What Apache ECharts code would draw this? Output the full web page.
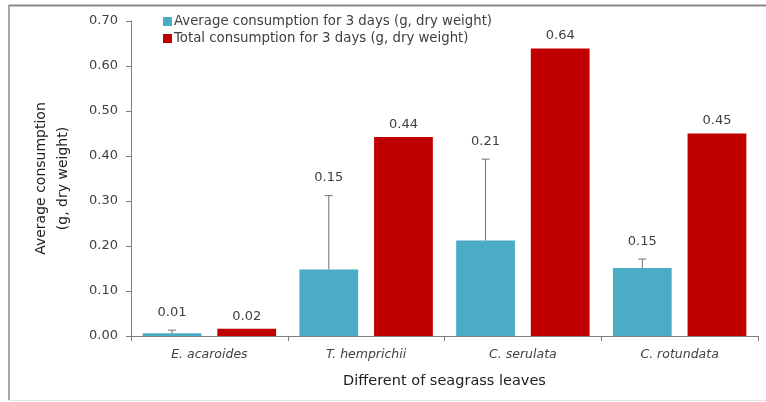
<!DOCTYPE html>
<html>
<head>
<meta charset="utf-8">
<script src="https://cdn.jsdelivr.net/npm/echarts@6/dist/echarts.min.js"></script>
<style>
html,body{margin:0;padding:0;background:#fff;}
#c{width:766px;height:402px;}
</style>
</head>
<body>
<div id="c"></div>
<script>
var categories = ['E. acaroides', 'T. hemprichii', 'C. serulata', 'C. rotundata'];
var seriesNames = ['Average consumption for 3 days (g, dry weight)', 'Total consumption for 3 days (g, dry weight)'];
var averageValues = [0.006, 0.148, 0.212, 0.151];
var averageErrorTops = [0.013, 0.312, 0.393, 0.171];
var totalValues = [0.016, 0.442, 0.639, 0.45];
var yTicks = [0, 0.1, 0.2, 0.3, 0.4, 0.5, 0.6, 0.7];

var FONT = 'DejaVu Sans';
var TEXT = '#404040';
var AXIS = '#7f7f7f';
var BAR_W = 0.375, BAR_GAP = 0.27;

var chart = echarts.init(document.getElementById('c'), null, {renderer: 'canvas'});

var errData = categories.map(function (c, i) { return [i, averageValues[i], averageErrorTops[i]]; });

chart.setOption({
  animation: false,
  textStyle: {fontFamily: FONT},
  graphic: [
    {type: 'line', shape: {x1: 9, y1: 5.5, x2: 766, y2: 5.5}, style: {stroke: '#8a8a8a', lineWidth: 2}},
    {type: 'line', shape: {x1: 9, y1: 5, x2: 9, y2: 400}, style: {stroke: '#8a8a8a', lineWidth: 1.5}},
    {type: 'line', shape: {x1: 9, y1: 400.5, x2: 766, y2: 400.5}, style: {stroke: '#e2e2e2', lineWidth: 1}}
  ],
  legend: {
    orient: 'vertical',
    left: 158,
    top: 10,
    itemWidth: 9,
    itemHeight: 9,
    itemGap: 4,
    icon: 'rect',
    data: seriesNames,
    textStyle: {fontFamily: FONT, fontSize: 13.3, color: TEXT, padding: [0, 0, 0, -3]}
  },
  grid: {left: 131, right: 8, top: 21, bottom: 66},
  xAxis: {
    type: 'category',
    data: categories,
    name: 'Different of seagrass leaves',
    nameLocation: 'middle',
    nameGap: 38,
    nameTextStyle: {fontFamily: FONT, fontSize: 14.5, color: '#202020'},
    axisLine: {lineStyle: {color: AXIS, width: 1}},
    axisTick: {show: true, length: 5, inside: false, lineStyle: {color: AXIS}},
    axisLabel: {fontFamily: FONT, fontSize: 12.5, fontStyle: 'italic', color: TEXT, margin: 12}
  },
  yAxis: {
    type: 'value',
    min: 0,
    max: 0.7,
    interval: 0.1,
    name: 'Average consumption\n(g, dry weight)',
    nameLocation: 'middle',
    nameGap: 57,
    nameRotate: 90,
    nameTextStyle: {fontFamily: FONT, fontSize: 14, color: '#202020', lineHeight: 22},
    axisLine: {show: true, lineStyle: {color: AXIS, width: 1}},
    axisTick: {show: true, length: 5, lineStyle: {color: AXIS}},
    splitLine: {show: false},
    axisLabel: {
      fontFamily: FONT, fontSize: 13, color: TEXT, margin: 13,
      formatter: function (v) {
        var t = yTicks.filter(function (k) { return Math.abs(k - v) < 1e-9; });
        return (t.length ? t[0] : v).toFixed(2);
      }
    }
  },
  series: [
    {
      name: seriesNames[0],
      type: 'bar',
      data: averageValues,
      barWidth: (BAR_W * 100) + '%',
      barGap: (BAR_GAP * 100) + '%',
      itemStyle: {color: '#4BACC6'},
      z: 2
    },
    {
      name: seriesNames[1],
      type: 'bar',
      data: totalValues,
      barWidth: (BAR_W * 100) + '%',
      barGap: (BAR_GAP * 100) + '%',
      itemStyle: {color: '#C00000'},
      label: {
        show: true, position: 'top', distance: 6,
        fontFamily: FONT, fontSize: 13, color: TEXT,
        formatter: function (p) { return p.value.toFixed(2); }
      },
      z: 2
    },
    {
      type: 'custom',
      name: 'err',
      data: errData,
      z: 5,
      silent: true,
      renderItem: function (params, api) {
        var idx = api.value(0);
        var catW = api.size([1, 0])[0];
        var bw = catW * BAR_W;
        var off = -(bw + bw * BAR_GAP) / 2;
        var base = api.coord([idx, api.value(1)]);
        var top = api.coord([idx, api.value(2)]);
        var x = base[0] + off;
        var cap = 4;
        return {
          type: 'group',
          children: [
            {type: 'line', shape: {x1: x, y1: base[1], x2: x, y2: top[1]}, style: {stroke: '#707070', lineWidth: 1}},
            {type: 'line', shape: {x1: x - cap, y1: top[1], x2: x + cap, y2: top[1]}, style: {stroke: '#707070', lineWidth: 1}},
            {type: 'text', style: {
              x: x, y: top[1] - 11,
              text: api.value(1).toFixed(2),
              textAlign: 'center', textVerticalAlign: 'bottom',
              font: '13px "' + FONT + '"', fill: TEXT
            }}
          ]
        };
      }
    }
  ]
});
</script>
</body>
</html>
